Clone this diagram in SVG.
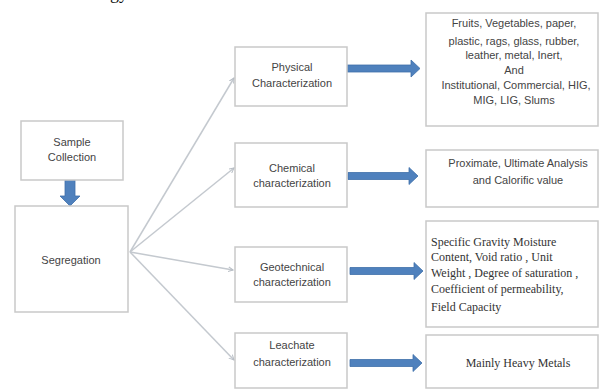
<svg xmlns="http://www.w3.org/2000/svg" width="601" height="390" viewBox="0 0 601 390">
<defs>
<style>
.box{fill:#fff;stroke:#c9c9c9;stroke-width:1.5}
.lbl{font-family:"Liberation Sans",Arial,sans-serif;font-size:11px;fill:#444;text-anchor:middle}
.ser{font-family:"Liberation Serif","Times New Roman",serif;font-size:12px;fill:#333}
.con{fill:none;stroke:#c4c9cf;stroke-width:1.5}
.blue{fill:#4f81bd;stroke:#3f70aa;stroke-width:0.8}
</style>
<marker id="ah" markerWidth="6" markerHeight="6" refX="5" refY="3" orient="auto" markerUnits="userSpaceOnUse">
<path d="M0,0.5 L5,3 L0,5.5" fill="none" stroke="#b8bec5" stroke-width="1"/>
</marker>
</defs>
<rect width="601" height="390" fill="#fff"/>
<text x="110" y="-1" font-family="Liberation Serif,serif" font-size="18" fill="#111">gy</text>

<g id="connectors">
<line class="con" x1="130" y1="252" x2="234" y2="78" marker-end="url(#ah)"/>
<line class="con" x1="130" y1="252" x2="234" y2="168" marker-end="url(#ah)"/>
<line class="con" x1="130" y1="252" x2="233" y2="270" marker-end="url(#ah)"/>
<line class="con" x1="130" y1="252" x2="234" y2="360" marker-end="url(#ah)"/>
<path class="blue" d="M65,167 H75 V196 H80 L70,206 L60,196 H65 Z"/>
<path class="blue" d="M347,65 H411 V60 L420,68.5 L411,77 V72 H347 Z"/>
<path class="blue" d="M348,172.5 H409 V167.5 L418,176 L409,184.5 V179.5 H348 Z"/>
<path class="blue" d="M350,267.5 H414 V262.5 L423,271 L414,279.5 V274.5 H350 Z"/>
<path class="blue" d="M350,359.5 H413 V354.5 L422,363 L413,371.5 V366.5 H350 Z"/>
</g>

<g id="sample">
<rect class="box" x="21" y="121" width="102" height="59"/>
<text class="lbl" x="72" y="146">Sample</text>
<text class="lbl" x="72" y="161">Collection</text>
</g>

<g id="segregation">
<rect class="box" x="15" y="206" width="113" height="106"/>
<text class="lbl" x="71" y="264">Segregation</text>
</g>

<g id="physical">
<rect class="box" x="235" y="47" width="112" height="59"/>
<text class="lbl" x="292" y="71">Physical</text>
<text class="lbl" x="292" y="87">Characterization</text>
</g>

<g id="chemical">
<rect class="box" x="235" y="143" width="112" height="64"/>
<text class="lbl" x="292" y="172">Chemical</text>
<text class="lbl" x="292" y="187">characterization</text>
</g>

<g id="geotechnical">
<rect class="box" x="235" y="247" width="112" height="55"/>
<text class="lbl" x="292" y="271">Geotechnical</text>
<text class="lbl" x="292" y="286">characterization</text>
</g>

<g id="leachate">
<rect class="box" x="235" y="333" width="112" height="55"/>
<text class="lbl" x="292" y="349">Leachate</text>
<text class="lbl" x="292" y="366">characterization</text>
</g>

<g id="physical-out">
<rect class="box" x="426" y="13" width="172" height="113"/>
<text class="lbl" x="514" y="27">Fruits, Vegetables, paper,</text>
<text class="lbl" x="514" y="45">plastic, rags, glass, rubber,</text>
<text class="lbl" x="514" y="59">leather, metal, Inert,</text>
<text class="lbl" x="514" y="74">And</text>
<text class="lbl" x="516" y="89">Institutional, Commercial, HIG,</text>
<text class="lbl" x="514" y="104">MIG, LIG, Slums</text>
</g>

<g id="chemical-out">
<rect class="box" x="426" y="150" width="172" height="57"/>
<text class="lbl" x="518" y="167">Proximate, Ultimate Analysis</text>
<text class="lbl" x="518" y="184">and Calorific value</text>
</g>

<g id="geotechnical-out">
<rect class="box" x="426" y="221" width="172" height="106"/>
<text class="ser" x="431" y="246">Specific Gravity Moisture</text>
<text class="ser" x="431" y="261">Content, Void ratio , Unit</text>
<text class="ser" x="431" y="277">Weight , Degree of saturation ,</text>
<text class="ser" x="431" y="293">Coefficient of permeability,</text>
<text class="ser" x="431" y="311">Field Capacity</text>
</g>

<g id="leachate-out">
<rect class="box" x="426" y="335" width="172" height="53"/>
<text class="ser" x="518" y="367" text-anchor="middle" font-size="12.5">Mainly Heavy Metals</text>
</g>
</svg>
